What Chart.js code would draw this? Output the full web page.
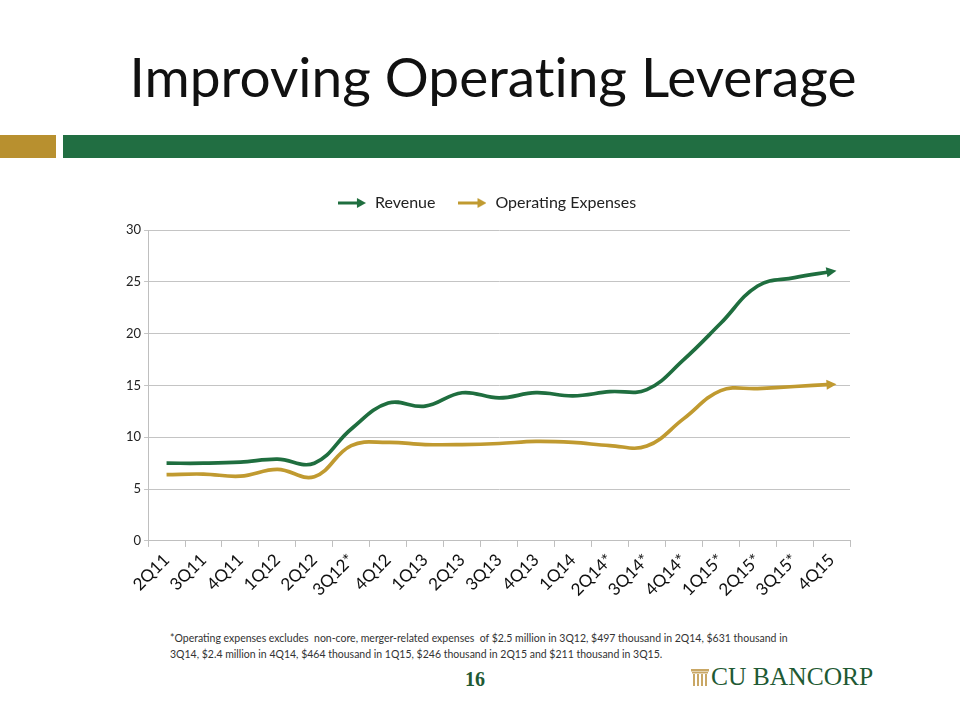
<!DOCTYPE html>
<html>
<head>
<meta charset="utf-8">
<script src="https://cdn.jsdelivr.net/npm/chart.js@4"></script>
<style>
  body { margin: 0; width: 960px; height: 720px; background: #fff; position: relative; overflow: hidden; font-family: "Lato", "Noto Sans", sans-serif; }
  #title { position: absolute; left: 0; width: 986px; top: 43px; text-align: center; font-size: 55px; color: #111; font-variant-ligatures: none; }
  .bar { position: absolute; top: 135px; height: 23px; }
  #chartBox { position: absolute; left: 95px; top: 173px; width: 775px; height: 430px; }
  #note { position: absolute; left: 170px; top: 630px; font-size: 10.5px; line-height: 16px; color: #333; }
  #page { position: absolute; left: 465px; top: 668px; font-family: "Liberation Serif", serif; font-weight: bold; font-size: 20px; color: #1f5a34; }
  #logo { position: absolute; left: 691px; top: 662px; font-family: "Liberation Serif", serif; font-size: 25.5px; color: #1f5a34; white-space: nowrap; }
  #logo svg { vertical-align: -1px; margin-right: 2px; }
</style>
</head>
<body>
<div id="title">Improving Operating Leverage</div>
<div class="bar" style="left:0;width:56px;background:#b8902f;"></div>
<div class="bar" style="left:63px;width:897px;background:#216e42;"></div>
<div id="chartBox"><canvas id="chart"></canvas></div>
<div id="note">*Operating expenses excludes&nbsp; non-core, merger-related expenses&nbsp; of $2.5 million in 3Q12, $497 thousand in 2Q14, $631 thousand in<br>3Q14, $2.4 million in 4Q14, $464 thousand in 1Q15, $246 thousand in 2Q15 and $211 thousand in 3Q15.</div>
<div id="page">16</div>
<div id="logo"><svg width="18" height="17" viewBox="0 0 18 17"><rect x="0" y="0" width="18" height="2.5" fill="#c9a765"/><rect x="1" y="3" width="16" height="1.5" fill="#c9a765"/><rect x="2" y="5" width="2" height="12" fill="#c9a765"/><rect x="6" y="5" width="2" height="12" fill="#c9a765"/><rect x="10" y="5" width="2" height="12" fill="#c9a765"/><rect x="14" y="5" width="2" height="12" fill="#c9a765"/></svg>CU BANCORP</div>
<script>
// --- DỮ LIỆU ---
const quarters = ['2Q11', '3Q11', '4Q11', '1Q12', '2Q12', '3Q12*', '4Q12', '1Q13', '2Q13', '3Q13',
                  '4Q13', '1Q14', '2Q14*', '3Q14*', '4Q14*', '1Q15*', '2Q15*', '3Q15*', '4Q15'];
const revenue = [7.5, 7.5, 7.6, 7.9, 7.5, 10.8, 13.3, 13.0, 14.3, 13.8,
                 14.3, 14.0, 14.4, 14.6, 17.5, 21.0, 24.6, 25.4, 26.0];
const opex = [6.4, 6.45, 6.25, 6.9, 6.2, 9.2, 9.5, 9.3, 9.3, 9.4,
              9.6, 9.5, 9.2, 9.15, 11.8, 14.5, 14.7, 14.9, 15.1];
const yTicks = [0, 5, 10, 15, 20, 25, 30];

const GREEN = '#1f6e3f';
const GOLD = '#c09a30';
const FONT = '"Lato", "Noto Sans", sans-serif';

// mũi tên cho chú thích
function legendArrow(color) {
    const c = document.createElement('canvas');
    c.width = 28; c.height = 12;
    const g = c.getContext('2d');
    g.strokeStyle = color; g.fillStyle = color; g.lineWidth = 3;
    g.beginPath(); g.moveTo(0, 6); g.lineTo(21, 6); g.stroke();
    g.beginPath(); g.moveTo(28, 6); g.lineTo(19, 1); g.lineTo(19, 11); g.closePath(); g.fill();
    return c;
}

// chừa thêm khoảng trống dưới chú thích
const legendGap = {
    id: 'legendGap',
    beforeInit(chart) {
        const origFit = chart.legend.fit;
        chart.legend.fit = function () {
            origFit.bind(chart.legend)();
            this.height += 9;
        };
    }
};

// vẽ đầu mũi tên ở điểm cuối mỗi đường
const arrowHeads = {
    id: 'arrowHeads',
    afterDatasetsDraw(chart) {
        const ctx = chart.ctx;
        chart.data.datasets.forEach((ds, i) => {
            const pts = chart.getDatasetMeta(i).data;
            const last = pts[pts.length - 1];
            const ang = Math.atan2(last.y - last.cp1y, last.x - last.cp1x);
            ctx.save();
            ctx.translate(last.x, last.y);
            ctx.rotate(ang);
            ctx.fillStyle = ds.borderColor;
            ctx.beginPath();
            ctx.moveTo(5, 0);
            ctx.lineTo(-5, -5);
            ctx.lineTo(-5, 5);
            ctx.closePath();
            ctx.fill();
            ctx.restore();
        });
    }
};

new Chart(document.getElementById('chart'), {
    type: 'line',
    data: {
        labels: quarters,
        datasets: [
            { label: 'Revenue', data: revenue, borderColor: GREEN, backgroundColor: GREEN,
              borderWidth: 3.7, tension: 0.4, pointRadius: 0, pointStyle: legendArrow(GREEN) },
            { label: 'Operating Expenses', data: opex, borderColor: GOLD, backgroundColor: GOLD,
              borderWidth: 3.7, tension: 0.4, pointRadius: 0, pointStyle: legendArrow(GOLD) }
        ]
    },
    options: {
        responsive: true,
        maintainAspectRatio: false,
        animation: false,
        layout: { padding: { left: 28, right: 20, top: 0, bottom: 0 } },
        plugins: {
            legend: {
                position: 'top',
                labels: { usePointStyle: true, pointStyleWidth: 30, font: { family: FONT, size: 16 }, color: '#222', padding: 22 }
            },
            tooltip: { enabled: false }
        },
        scales: {
            x: {
                offset: true,
                grid: { offset: true, drawOnChartArea: false, color: '#bfbfbf', tickLength: 6 },
                border: { color: '#bfbfbf' },
                ticks: { minRotation: 45, maxRotation: 45, color: '#111', font: { family: FONT, size: 17 } }
            },
            y: {
                min: 0, max: 30,
                afterBuildTicks: (axis) => { axis.ticks = yTicks.map(v => ({ value: v })); },
                grid: { color: '#c4c4c4', tickLength: 4 },
                border: { color: '#bfbfbf' },
                ticks: { color: '#222', font: { family: FONT, size: 13 } }
            }
        }
    },
    plugins: [legendGap, arrowHeads]
});
</script>
</body>
</html>
